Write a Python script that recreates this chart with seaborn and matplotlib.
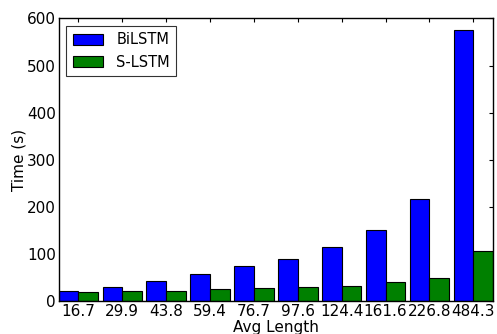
import matplotlib
matplotlib.use("Agg")
import matplotlib.pyplot as plt
import seaborn as sns
import pandas as pd

avg_length = ["16.7", "29.9", "43.8", "59.4", "76.7", "97.6", "124.4", "161.6", "226.8", "484.3"]
bilstm = [22, 31, 44, 58, 74, 90, 115, 151, 216, 576]
slstm = [19, 21, 22, 26, 28, 30, 33, 40, 50, 107]
models = ["BiLSTM", "S-LSTM"]
colors = ["#0000ff", "#008000"]

df = pd.DataFrame({
    "Avg Length": avg_length * 2,
    "Time": bilstm + slstm,
    "Model": [models[0]] * len(bilstm) + [models[1]] * len(slstm),
})

sns.set_style("white", {"text.color": "black", "axes.labelcolor": "black",
                        "xtick.color": "black", "ytick.color": "black",
                        "axes.edgecolor": "black"})
plt.rcParams["font.family"] = ["DejaVu Sans"]
plt.rcParams["font.size"] = 10

fig, ax = plt.subplots(figsize=(4.97, 3.34), dpi=100)
sns.barplot(data=df, x="Avg Length", y="Time", hue="Model", order=avg_length,
            hue_order=models, palette=colors, width=0.9, gap=0,
            edgecolor="black", linewidth=0.8, saturation=1, ax=ax)

ax.set_xlim(-0.45, len(avg_length) - 0.55)
ax.set_ylim(0, 600)
ax.set_yticks([0, 100, 200, 300, 400, 500, 600])
ax.set_xlabel("Avg Length", fontsize=11, labelpad=1)
ax.set_ylabel("Time (s)", fontsize=11, labelpad=0)
ax.tick_params(axis="both", direction="in", length=3, width=0.8, labelsize=11,
               top=True, right=True, pad=2)
for s in ax.spines.values():
    s.set_visible(True)
    s.set_color("black")
    s.set_linewidth(1.0)

leg = ax.legend(loc="upper left", fontsize=10.5, frameon=True, fancybox=False,
                edgecolor="black", handlelength=2.1, handleheight=0.8,
                borderpad=0.45, labelspacing=0.5, handletextpad=0.9)
leg.get_frame().set_linewidth(0.8)

fig.subplots_adjust(left=0.118, right=0.992, top=0.945, bottom=0.098)
fig.savefig("out.png", dpi=100)
